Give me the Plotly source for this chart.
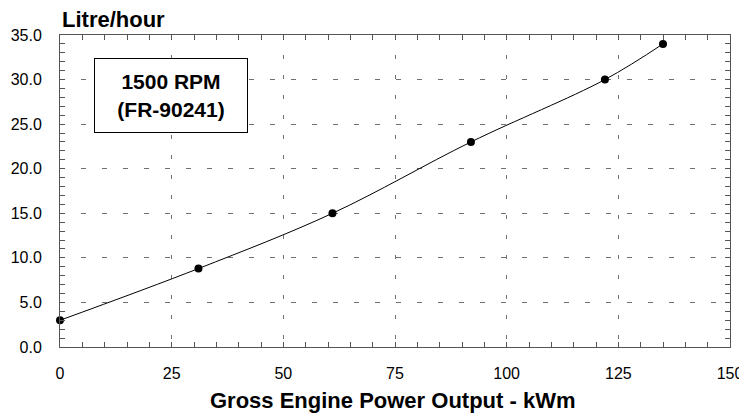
import plotly.graph_objects as go

power_kwm = [0, 31, 61, 92, 122, 135]
fuel_lph = [3.0, 8.8, 15.0, 23.0, 30.0, 34.0]
x_ticks = [0, 25, 50, 75, 100, 125, 150]
y_ticks = [0, 5, 10, 15, 20, 25, 30, 35]

FONT = "Liberation Sans, Arial, sans-serif"

fig = go.Figure()
fig.add_trace(go.Scatter(
    x=power_kwm, y=fuel_lph, mode="lines+markers",
    line=dict(color="black", width=1, shape="spline", smoothing=1.0),
    marker=dict(color="black", size=8),
    cliponaxis=False, showlegend=False,
))

# page body has an 8px margin, so the figure is sized to the remaining window
fig.update_layout(
    width=739, height=409,
    margin=dict(l=52, r=17, t=27, b=70),
    paper_bgcolor="white", plot_bgcolor="white",
    font=dict(family=FONT, color="black", size=16),
    xaxis=dict(
        range=[0, 150], tickvals=x_ticks, ticktext=[str(v) for v in x_ticks],
        showgrid=True, gridcolor="#707070", gridwidth=1, griddash="4px,16px",
        showline=True, linecolor="#555", linewidth=1, mirror="ticks",
        ticks="inside", ticklen=5, tickcolor="#555",
        minor=dict(dtick=5, ticks="inside", ticklen=5, tickcolor="#555", showgrid=False),
        zeroline=False, ticklabelstandoff=12, automargin=False,
    ),
    yaxis=dict(
        range=[0, 35], tickvals=y_ticks, tickformat=".1f",
        showgrid=True, gridcolor="#707070", gridwidth=1, griddash="5px,16px",
        showline=True, linecolor="#555", linewidth=1, mirror="ticks",
        ticks="inside", ticklen=5, tickcolor="#555",
        minor=dict(dtick=1, ticks="inside", ticklen=5, tickcolor="#555", showgrid=False),
        zeroline=False, ticklabelstandoff=14, automargin=False,
    ),
    annotations=[
        dict(text="<b>Litre/hour</b>", xref="paper", yref="paper", x=0, y=1,
             xanchor="left", yanchor="bottom", yshift=1, showarrow=False,
             font=dict(size=22)),
        dict(text="<b>Gross Engine Power Output - kWm</b>", xref="paper", yref="paper",
             x=0.497, y=0, xanchor="center", yanchor="middle", yshift=-53,
             showarrow=False, font=dict(size=22)),
        dict(text="<b>1500 RPM<br>(FR-90241)</b>", xref="x", yref="y", x=24.85, y=28.2,
             xanchor="center", yanchor="middle", showarrow=False,
             font=dict(size=21), bordercolor="black", borderwidth=1, borderpad=0,
             bgcolor="white", width=152, height=73),
    ],
)

fig.write_html("out.html")
